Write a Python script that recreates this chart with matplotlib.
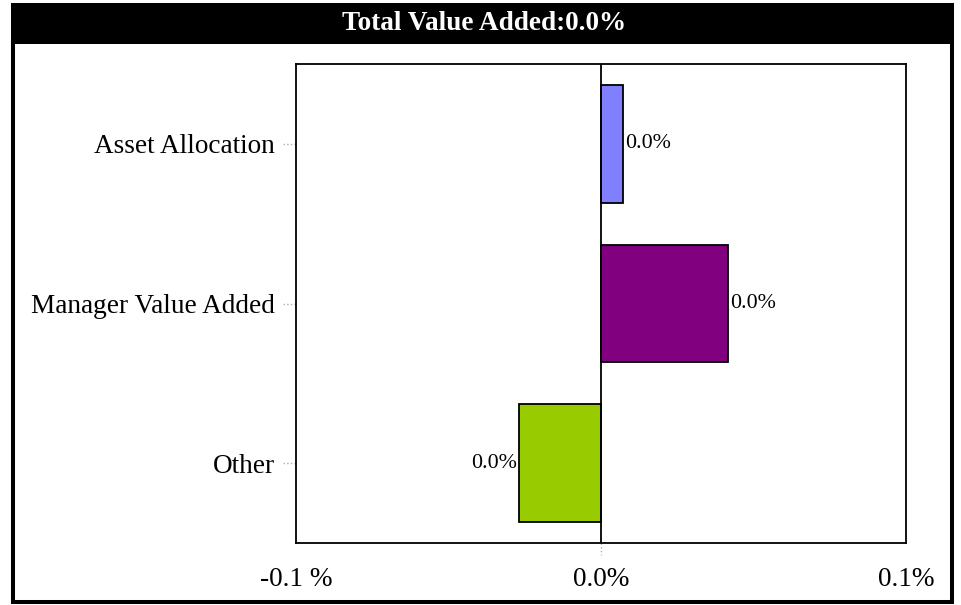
import matplotlib.pyplot as plt
from matplotlib.patches import Rectangle

# data
categories = ['Asset Allocation', 'Manager Value Added', 'Other']
values = [0.0072, 0.0416, -0.0269]
value_labels = ['0.0%', '0.0%', '0.0%']
bar_colors = ['#8080FF', '#800080', '#99CC00']
xtick_values = [-0.1, 0.0, 0.1]
xtick_labels = ['-0.1 %', '0.0%', '0.1%']
title = 'Total Value Added:0.0%'

plt.rcParams['font.family'] = ['Liberation Serif', 'DejaVu Serif']

W, H = 961, 605
fig = plt.figure(figsize=(W / 100, H / 100), dpi=100)

# black title bar and outer frame
fig.patches.append(Rectangle((11 / W, 1 - 44 / H), 943 / W, 41 / H,
                             transform=fig.transFigure, facecolor='black',
                             edgecolor='none', zorder=0))
fig.patches.append(Rectangle((13 / W, 1 - 602 / H), 939 / W, 597 / H,
                             transform=fig.transFigure, facecolor='none',
                             edgecolor='black', linewidth=2.9, zorder=5))
fig.text(484 / W, 1 - 24 / H, title, color='white', fontsize=19.6,
         fontweight='bold', ha='center', va='center')

ax = fig.add_axes([296 / W, 1 - 543 / H, 610 / W, 479 / H])

pos = list(range(len(categories)))[::-1]
ax.barh(pos, values, height=0.735, color=bar_colors, edgecolor='black',
        linewidth=1.3, zorder=2)
ax.axvline(0, color='black', linewidth=1.3, zorder=3)

for p, v, lab in zip(pos, values, value_labels):
    if v >= 0:
        ax.annotate(lab, (v, p), xytext=(1.5, 0), textcoords='offset points',
                    ha='left', va='center', fontsize=15.8)
    else:
        ax.annotate(lab, (v, p), xytext=(-1.5, 0), textcoords='offset points',
                    ha='right', va='center', fontsize=15.8)

ax.set_xlim(-0.1, 0.1)
ax.set_ylim(-0.5, 2.5)
ax.set_xticks(xtick_values)
ax.set_xticklabels(xtick_labels)
ax.set_yticks(pos)
ax.set_yticklabels(categories)
ax.tick_params(axis='x', length=0, pad=17, labelsize=19.6)
ax.tick_params(axis='y', length=0, pad=15, labelsize=19.6)

# small dotted grey ticks
ax.plot([0, 0], [0, -0.025], transform=ax.get_xaxis_transform(),
        ls=':', color='#b0b0b0', lw=1, clip_on=False)
for p in pos:
    ax.plot([-0.022, 0], [p, p], transform=ax.get_yaxis_transform(),
            ls=':', color='#b0b0b0', lw=1, clip_on=False)

for s in ax.spines.values():
    s.set_linewidth(1.3)
    s.set_color('black')

fig.savefig('out.png', dpi=100)
